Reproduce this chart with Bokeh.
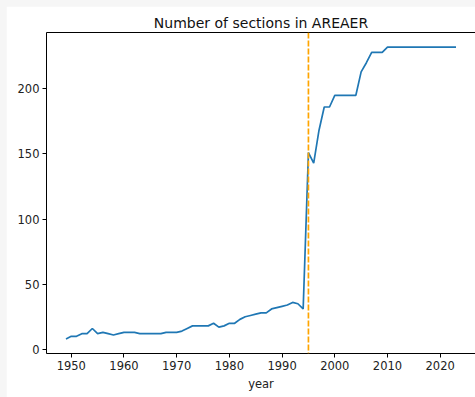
from bokeh.plotting import figure
from bokeh.models import Range1d, FixedTicker, Span, LinearAxis, ColumnDataSource
from bokeh.layouts import column
from bokeh.embed import file_html
from bokeh.resources import INLINE

years = list(range(1949, 2024))
sections = [
    8, 10, 10, 12, 12, 16, 12, 13, 12, 11,      # 1949-1958
    12, 13, 13, 13, 12, 12, 12, 12, 12, 13,     # 1959-1968
    13, 13, 14, 16, 18, 18, 18, 18, 20, 17,     # 1969-1978
    18, 20, 20, 23, 25, 26, 27, 28, 28, 31,     # 1979-1988
    32, 33, 34, 36, 35, 31, 151, 143, 168, 186, # 1989-1998
    186, 195, 195, 195, 195, 195, 213, 220, 228, 228,  # 1999-2008
    228, 232, 232, 232, 232, 232, 232, 232, 232, 232,  # 2009-2018
    232, 232, 232, 232, 232,                    # 2019-2023
]
x_ticks = [1950, 1960, 1970, 1980, 1990, 2000, 2010, 2020]
y_ticks = [0, 50, 100, 150, 200]
event_year = 1995
title_text = "Number of sections in AREAER"
x_label = "year"

xpad = 0.05 * (max(years) - min(years))
ypad = 0.05 * (max(sections) - min(sections))

FONT = "DejaVu Sans"
TXT = "#222222"

p = figure(
    width=469, height=391,
    output_backend="svg", toolbar_location=None,
    x_range=Range1d(min(years) - xpad, max(years) + xpad),
    y_range=Range1d(min(sections) - ypad, max(sections) + ypad),
    title=title_text,
    min_border_left=40, min_border_right=0, min_border_top=26, min_border_bottom=44,
)
p.margin = (6, 0, 0, 6)
p.background_fill_color = "white"
p.border_fill_color = "white"
p.outline_line_color = None
p.xgrid.visible = False
p.ygrid.visible = False

p.title.align = "center"
p.title.text_font = FONT
p.title.text_font_size = "14px"
p.title.text_font_style = "normal"
p.title.text_color = "#111111"
p.title.standoff = 4

for ax in (p.xaxis[0], p.yaxis[0]):
    ax.axis_line_color = "black"
    ax.axis_line_width = 1
    ax.major_tick_line_color = "black"
    ax.major_tick_out = 4
    ax.major_tick_in = 0
    ax.minor_tick_line_color = None
    ax.major_label_text_font = FONT
    ax.major_label_text_font_size = "11.5px"
    ax.major_label_text_color = TXT
    ax.major_label_standoff = 3

p.xaxis[0].ticker = FixedTicker(ticks=x_ticks)
p.yaxis[0].ticker = FixedTicker(ticks=y_ticks)
p.xaxis[0].axis_label = x_label
p.xaxis[0].axis_label_text_font = FONT
p.xaxis[0].axis_label_text_font_size = "11.5px"
p.xaxis[0].axis_label_text_font_style = "normal"
p.xaxis[0].axis_label_text_color = TXT
p.xaxis[0].axis_label_standoff = 4

top = LinearAxis(
    axis_line_color="black", major_tick_line_color=None, minor_tick_line_color=None,
    major_label_text_font_size="0px", major_label_standoff=0,
    ticker=FixedTicker(ticks=[]),
)
p.add_layout(top, "above")

src = ColumnDataSource(dict(year=years, n=sections))
p.line("year", "n", source=src, line_color="#1f77b4", line_width=1.7)

p.add_layout(Span(location=event_year, dimension="height", line_color="orange",
                  line_width=1.7, line_dash="6 2"))

layout = column(p, styles={"background-color": "#f6f6f6"})

open("out.html", "w").write(file_html(layout, INLINE))
